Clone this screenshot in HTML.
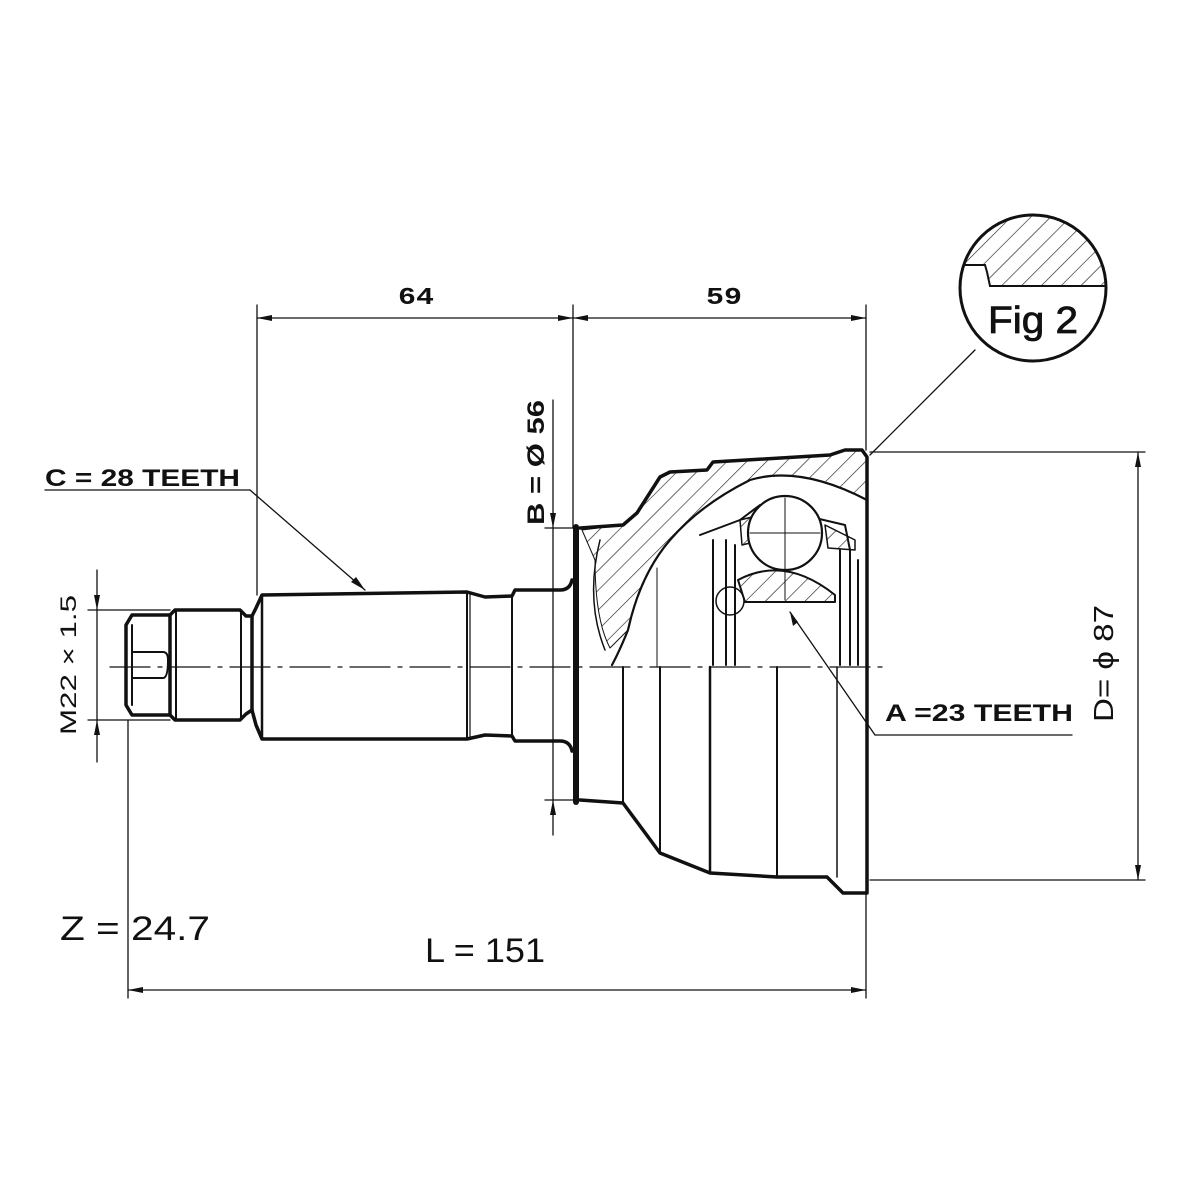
<!DOCTYPE html>
<html><head><style>html,body{margin:0;padding:0;background:#fff}svg{display:block}</style></head>
<body>
<svg width="1200" height="1200" viewBox="0 0 1200 1200" xmlns="http://www.w3.org/2000/svg">
<defs>
<pattern id="h" patternUnits="userSpaceOnUse" width="14" height="14" patternTransform="rotate(45)">
<line x1="0" y1="0" x2="0" y2="14" stroke="#222" stroke-width="1.3"/>
</pattern>
<clipPath id="fc"><circle cx="1033" cy="288" r="73"/></clipPath>
</defs>
<rect width="1200" height="1200" fill="#fff"/>
<g fill="none" stroke="#111" stroke-linecap="round" stroke-linejoin="round">
<line x1="110" y1="667" x2="885" y2="667" stroke-width="1.3" stroke-dasharray="40,8,4,8"/>

<path d="M170,615 L132,615 L126,625 L126,705 L132,715 L170,715 Z" stroke-width="3.5"/>
<path d="M132,625 L132,705" stroke-width="2"/>
<path d="M132,652 L163,652 Q168,652 168,660 Q168,678 163,678 L132,678" stroke-width="2"/>
<path d="M170,615 L175,610 L240,610 L246,616 L252,616 L252,710 L246,714 L240,720 L175,720 L170,715" stroke-width="3.5"/>
<line x1="176" y1="612" x2="176" y2="718" stroke-width="2"/>
<line x1="241" y1="612" x2="241" y2="718" stroke-width="2"/>
<path d="M252,616 L256,608 L262,595 L467,592 L485,597 L512,596 L515,590 L560,590 Q570,590 572,580" stroke-width="3.5"/>
<path d="M252,710 L256,725 L262,739 L467,739 L485,735 L512,736 L515,741 L560,741 Q570,741 572,751" stroke-width="3.5"/>
<line x1="262" y1="595" x2="262" y2="739" stroke-width="2.5"/>
<line x1="467" y1="592" x2="467" y2="739" stroke-width="2"/>
<line x1="470" y1="593" x2="470" y2="738" stroke-width="1.2"/>
<line x1="512" y1="596" x2="512" y2="736" stroke-width="2"/>

<path d="M582,530 L623,525 L637,513 L660,477 L670,472 L707,470 L713,462 L830,455 L845,450 L862,450 L867,457 L867,500 Q800,465 750,480 Q700,505 670,540 Q640,575 628,630 L610,648 Q595,620 595,560 Z" fill="url(#h)" stroke-width="1"/>
<path d="M580,528 L623,525 L637,513 L660,477 L670,472 L707,470 L713,462 L830,455 L845,450 L862,450 L867,457 L867,893 L863,893 L843,893 L827,877 L777,877 L710,873 L660,853 L623,803 L580,800" stroke-width="3.5"/>
<line x1="576" y1="527" x2="576" y2="802" stroke-width="6"/>
<path d="M867,500 Q800,465 750,480 Q700,505 670,540 Q640,575 628,630 Q620,650 612,665" stroke-width="2.2"/>
<path d="M600,540 Q585,600 605,650" stroke-width="1.5"/>
<path d="M700,535 L740,520 L760,505 L845,525 L850,550 L850,665" stroke-width="2"/>
<path d="M713,540 L713,665 M726,540 L726,665 M735,545 L735,665" stroke-width="2"/>
<path d="M840,550 L840,665 M858,560 L858,665" stroke-width="2"/>
<path d="M738,580 Q785,555 835,595 L835,602 L745,602 Z" fill="url(#h)" stroke-width="2"/>
<circle cx="730" cy="601" r="14" stroke-width="1.5"/>
<path d="M740,520 L760,515 L762,540 L742,545 Z" fill="url(#h)" stroke-width="1.5"/>
<path d="M825,525 L855,540 L855,550 L828,548 Z" fill="url(#h)" stroke-width="1.5"/>
<circle cx="785" cy="533" r="37" fill="#fff" stroke-width="2.2"/>
<path d="M750,533 L820,533 M785,498 L785,600" stroke-width="1"/>
<line x1="623" y1="667" x2="623" y2="803" stroke-width="2"/>
<line x1="660" y1="667" x2="660" y2="853" stroke-width="2"/>
<line x1="710" y1="667" x2="710" y2="873" stroke-width="2.5"/>
<line x1="777" y1="667" x2="777" y2="877" stroke-width="2"/>
<line x1="837" y1="667" x2="837" y2="877" stroke-width="1.5"/>
<line x1="657" y1="568" x2="657" y2="667" stroke-width="1"/>

<g stroke-width="1.3">
<line x1="257" y1="305" x2="257" y2="595"/>
<line x1="573" y1="305" x2="573" y2="528"/>
<line x1="866" y1="305" x2="866" y2="450"/>
<line x1="257" y1="318" x2="866" y2="318"/>
<line x1="128" y1="720" x2="128" y2="998"/>
<line x1="866" y1="893" x2="866" y2="998"/>
<line x1="128" y1="990" x2="866" y2="990"/>
<line x1="870" y1="452" x2="1145" y2="452"/>
<line x1="870" y1="880" x2="1145" y2="880"/>
<line x1="1138" y1="452" x2="1138" y2="880"/>
<line x1="553" y1="400" x2="553" y2="835"/>
<line x1="545" y1="528" x2="576" y2="528"/>
<line x1="545" y1="800" x2="576" y2="800"/>
<line x1="97" y1="570" x2="97" y2="762"/>
<line x1="88" y1="610" x2="170" y2="610"/>
<line x1="88" y1="720" x2="170" y2="720"/>
<line x1="45" y1="490" x2="250" y2="490"/>
<line x1="250" y1="490" x2="365" y2="590"/>
<line x1="870" y1="455" x2="975" y2="350"/>
<line x1="790" y1="612" x2="875" y2="735"/>
<line x1="875" y1="735" x2="1072" y2="735"/>
</g>
</g>
<g fill="#111">
<polygon points="257,318 272,315 272,321"/><polygon points="573,318 558,315 558,321"/>
<polygon points="573,318 588,315 588,321"/><polygon points="866,318 851,315 851,321"/>
<polygon points="128,990 143,987 143,993"/><polygon points="866,990 851,987 851,993"/>
<polygon points="1138,452 1135,467 1141,467"/><polygon points="1138,880 1135,865 1141,865"/>
<polygon points="553,528 550,513 556,513"/><polygon points="553,800 550,815 556,815"/>
<polygon points="97,610 94,595 100,595"/><polygon points="97,720 94,735 100,735"/>
<polygon points="365,590 351,582 356,577"/>
<polygon points="790,612 793,626 798,622"/>
</g>
<g clip-path="url(#fc)">
<path d="M950,200 L1120,200 L1120,286 L990,286 L987,272 L985,265 L950,265 Z" fill="url(#h)" stroke="#111" stroke-width="2"/>
</g>
<circle cx="1033" cy="288" r="73" fill="none" stroke="#111" stroke-width="3"/>
<g font-family="Liberation Sans, sans-serif" fill="#111">
<text x="988" y="333" font-size="38" textLength="90" lengthAdjust="spacingAndGlyphs" stroke="#111" stroke-width="0.8">Fig 2</text>
<text x="398" y="304" font-size="24" font-family="Liberation Mono, monospace" font-weight="bold" textLength="36" lengthAdjust="spacingAndGlyphs">64</text>
<text x="706" y="304" font-size="24" font-family="Liberation Mono, monospace" font-weight="bold" textLength="36" lengthAdjust="spacingAndGlyphs">59</text>
<text x="45" y="486" font-size="24" font-weight="bold" textLength="195" lengthAdjust="spacingAndGlyphs">C = 28 TEETH</text>
<text x="885" y="721" font-size="24" font-weight="bold" textLength="188" lengthAdjust="spacingAndGlyphs">A =23 TEETH</text>
<text x="60" y="940" font-size="34" textLength="150" lengthAdjust="spacingAndGlyphs">Z = 24.7</text>
<text x="425" y="962" font-size="34" textLength="120" lengthAdjust="spacingAndGlyphs">L = 151</text>
<text transform="translate(544,525) rotate(-90)" font-size="24" font-weight="bold" textLength="125" lengthAdjust="spacingAndGlyphs">B = Ø 56</text>
<text transform="translate(1113,722) rotate(-90)" font-size="28" textLength="117" lengthAdjust="spacingAndGlyphs">D= ϕ 87</text>
<text transform="translate(76,735) rotate(-90)" font-size="22" textLength="140" lengthAdjust="spacingAndGlyphs">M22 × 1.5</text>
</g>
</svg>
</body></html>
